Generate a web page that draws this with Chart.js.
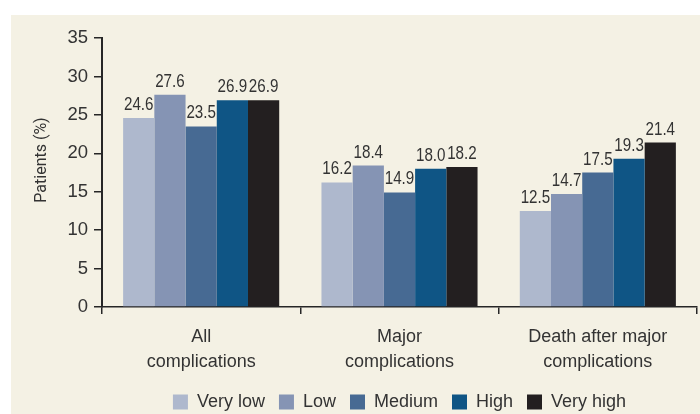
<!DOCTYPE html>
<html>
<head>
<meta charset="utf-8">
<script src="https://cdn.jsdelivr.net/npm/chart.js@4/dist/chart.umd.min.js"></script>
<style>
  html, body { margin: 0; padding: 0; background: #ffffff; overflow: hidden; }
  body { width: 700px; height: 414px; position: relative; }
  .panel { position: absolute; left: 11px; top: 15px; width: 689px; height: 399px; background: #f4f1e4; overflow: hidden; }
  #riskChart { display: block; }
</style>
</head>
<body>
<div class="panel">
  <canvas id="riskChart" width="689" height="406"></canvas>
</div>
<script>
const categories = [
  ['All', 'complications'],
  ['Major', 'complications'],
  ['Death after major', 'complications']
];
const riskGroups = ['Very low', 'Low', 'Medium', 'High', 'Very high'];
const veryLow = [24.6, 16.2, 12.5];
const low = [27.6, 18.4, 14.7];
const medium = [23.5, 14.9, 17.5];
const high = [26.9, 18.0, 19.3];
const veryHigh = [26.9, 18.2, 21.4];
const yTicks = [0, 5, 10, 15, 20, 25, 30, 35];

const barColors = ['#aeb8cd', '#8594b4', '#476a93', '#0f5585', '#231f20'];
const sans = '"Liberation Sans", Arial, sans-serif';
const textColor = '#333333';
const axisColor = '#262626';

const seriesValues = [veryLow, low, medium, high, veryHigh];

// value printed above every bar, squeezed a little sideways
const valueLabels = {
  id: 'valueLabels',
  afterDatasetsDraw(chart) {
    const ctx = chart.ctx;
    ctx.save();
    ctx.font = '18.5px ' + sans;
    ctx.fillStyle = textColor;
    ctx.textAlign = 'center';
    ctx.textBaseline = 'alphabetic';
    chart.data.datasets.forEach((ds, i) => {
      chart.getDatasetMeta(i).data.forEach((bar, j) => {
        ctx.save();
        ctx.translate(bar.x, bar.y - 8);
        ctx.scale(0.82, 1);
        ctx.fillText(ds.data[j].toFixed(1), 0, 0);
        ctx.restore();
      });
    });
    ctx.restore();
  }
};

// rotated y axis title
const yTitle = {
  id: 'yTitle',
  afterDraw(chart) {
    const ctx = chart.ctx;
    ctx.save();
    ctx.translate(30.5, 145);
    ctx.rotate(-Math.PI / 2);
    ctx.font = '16px Roboto, "Liberation Sans", sans-serif';
    ctx.fillStyle = textColor;
    ctx.textAlign = 'center';
    ctx.textBaseline = 'middle';
    ctx.fillText('Patients (%)', 0, 0);
    ctx.restore();
  }
};

new Chart(document.getElementById('riskChart').getContext('2d'), {
  type: 'bar',
  data: {
    labels: categories,
    datasets: riskGroups.map((name, i) => ({
      label: name,
      data: seriesValues[i],
      backgroundColor: barColors[i],
      borderWidth: 0,
      categoryPercentage: 0.787,
      barPercentage: 1.0
    }))
  },
  options: {
    responsive: false,
    animation: false,
    events: [],
    layout: { padding: { top: 23, right: 3, left: 0, bottom: 0 } },
    plugins: {
      legend: {
        position: 'bottom',
        fullSize: false,
        labels: {
          boxWidth: 15,
          boxHeight: 15,
          padding: 14,
          color: textColor,
          font: { family: sans, size: 18 }
        }
      },
      tooltip: { enabled: false }
    },
    scales: {
      x: {
        afterFit(scale) { scale.height = 72; },
        grid: {
          display: true,
          offset: true,
          drawOnChartArea: false,
          drawTicks: true,
          tickLength: 7,
          color: axisColor,
          lineWidth: 1.5
        },
        border: { display: true, color: axisColor, width: 1.5 },
        ticks: {
          color: textColor,
          padding: 10,
          maxRotation: 0,
          font: { family: sans, size: 18, lineHeight: 1.4 }
        }
      },
      y: {
        min: 0,
        max: 35,
        afterFit(scale) { scale.width = 91; },
        afterBuildTicks(scale) { scale.ticks = yTicks.map(v => ({ value: v })); },
        grid: {
          display: true,
          drawOnChartArea: false,
          drawTicks: true,
          tickLength: 8,
          color: axisColor,
          lineWidth: 1.5
        },
        border: { display: true, color: axisColor, width: 2 },
        ticks: {
          color: textColor,
          padding: 6,
          font: { family: sans, size: 18.5 }
        }
      }
    }
  },
  plugins: [valueLabels, yTitle]
});
</script>
</body>
</html>
